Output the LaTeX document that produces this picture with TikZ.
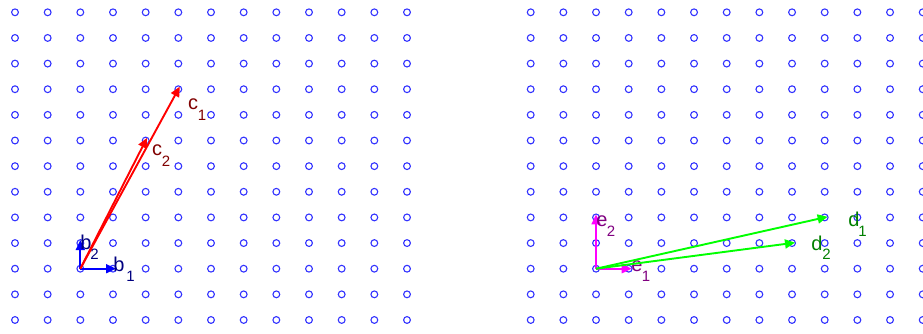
\documentclass[tikz,border=0pt]{standalone}
\usepackage{fontspec}
\setmainfont{Liberation Sans}
\usetikzlibrary{arrows.meta}
\definecolor{latblue}{RGB}{50,50,255}
\definecolor{vb}{RGB}{0,0,255}
\definecolor{vc}{RGB}{255,0,0}
\definecolor{ve}{RGB}{255,0,255}
\definecolor{vd}{RGB}{0,255,0}
\definecolor{tb}{RGB}{0,0,128}
\definecolor{tc}{RGB}{128,0,0}
\definecolor{te}{RGB}{128,0,128}
\definecolor{td}{RGB}{0,128,0}
\tikzset{
  lat/.style={draw=latblue, line width=1.1pt},
  vec/.style={line width=1.9pt, shorten >=-3pt, -{Triangle[length=10pt,width=9pt]}},
  letr/.style={font=\fontsize{20}{20}\selectfont, anchor=base, inner sep=0pt},
  subs/.style={font=\fontsize{15}{15}\selectfont, anchor=base, inner sep=0pt},
}
\begin{document}
\begin{tikzpicture}[x=1pt,y=-1pt]
\useasboundingbox (0,0) rectangle (923,333);
% lattices
\foreach \i in {0,...,12}{
  \foreach \j in {0,...,12}{
    \draw[lat] ({15+32.667*\i},{12.3+25.64*\j}) circle[radius=3.4pt];
    \draw[lat] ({530.7+32.667*\i},{12.3+25.64*\j}) circle[radius=3.4pt];
  }
}
% left lattice points
\coordinate (O1) at (80.33,268.7);
\coordinate (B1) at (113,268.7);
\coordinate (B2) at (80.33,243.06);
\coordinate (C1) at (178.33,89.22);
\coordinate (C2) at (145.67,140.5);
% right lattice points
\coordinate (O2) at (596.03,268.7);
\coordinate (E1) at (628.7,268.7);
\coordinate (E2) at (596.03,217.42);
\coordinate (D1) at (824.7,217.42);
\coordinate (D2) at (792.03,243.06);
% b vectors
\draw[vec, vb] (O1) -- (B1);
\draw[vec, vb] (O1) -- (B2);
\node[letr, text=tb] (lb1) at (119,271) {b};
\node[subs, text=tb] (lb1s) at (130.5,281.5) {1};
\node[letr, text=tb] (lb2) at (86,249.5) {b};
\node[subs, text=tb] (lb2s) at (94.5,259.5) {2};
% c vectors
\draw[vec, vc] (O1) -- (C1);
\draw[vec, vc] (O1) -- (C2);
\node[letr, text=tc] (lc1) at (193,109.5) {c};
\node[subs, text=tc] (lc1s) at (202,120) {1};
\node[letr, text=tc] (lc2) at (157,155.5) {c};
\node[subs, text=tc] (lc2s) at (166,166) {2};
% e vectors
\draw[vec, ve] (O2) -- (E1);
\draw[vec, ve] (O2) -- (E2);
\node[letr, text=te] (le1) at (637,271) {e};
\node[subs, text=te] (le1s) at (646,281) {1};
\node[letr, text=te] (le2) at (602,226) {e};
\node[subs, text=te] (le2s) at (611,236) {2};
% d vectors
\draw[vec, vd] (O2) -- (D1);
\draw[vec, vd] (O2) -- (D2);
\node[letr, text=td] (ld1) at (854,226) {d};
\node[subs, text=td] (ld1s) at (862.5,236) {1};
\node[letr, text=td] (ld2) at (817,250.5) {d};
\node[subs, text=td] (ld2s) at (826.5,259.5) {2};
\end{tikzpicture}
\end{document}
